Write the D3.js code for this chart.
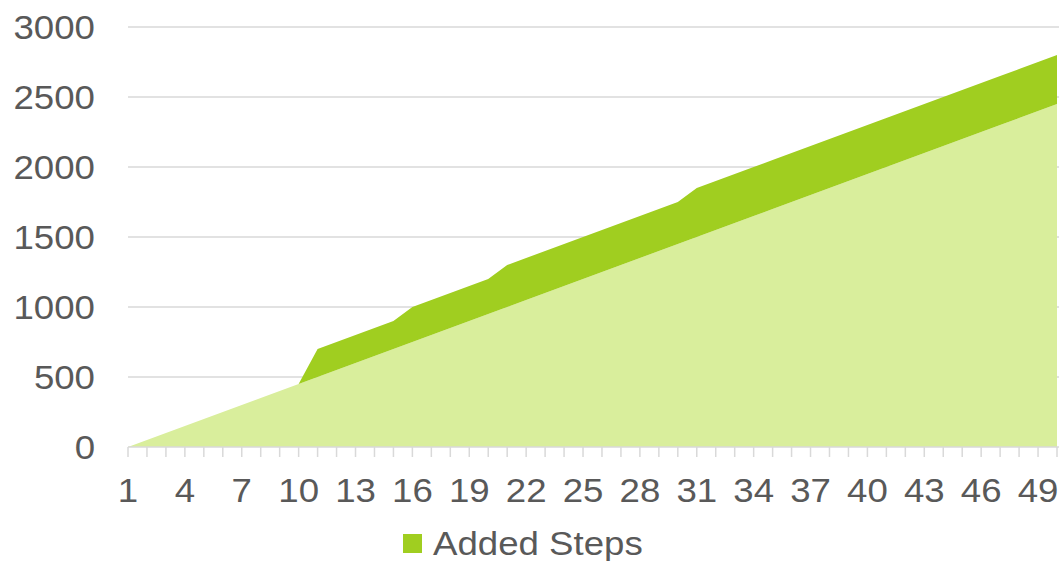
<!DOCTYPE html>
<html>
<head>
<meta charset="utf-8">
<script src="https://cdn.jsdelivr.net/npm/d3@7"></script>
<style>
  body { margin: 0; background: #fff; }
  svg { display: block; font-family: "Liberation Sans", Arial, sans-serif; }
  .lbl { fill: #595959; }
</style>
</head>
<body>
<div id="chart"></div>
<script>
// categorias del eje x (1..50)
const steps = [1, 2, 3, 4, 5, 6, 7, 8, 9, 10,
    11, 12, 13, 14, 15, 16, 17, 18, 19, 20,
    21, 22, 23, 24, 25, 26, 27, 28, 29, 30,
    31, 32, 33, 34, 35, 36, 37, 38, 39, 40,
    41, 42, 43, 44, 45, 46, 47, 48, 49, 50];

// serie base (area clara, sin leyenda)
const baseSteps = [0, 50, 100, 150, 200, 250, 300, 350, 400, 450,
    500, 550, 600, 650, 700, 750, 800, 850, 900, 950,
    1000, 1050, 1100, 1150, 1200, 1250, 1300, 1350, 1400, 1450,
    1500, 1550, 1600, 1650, 1700, 1750, 1800, 1850, 1900, 1950,
    2000, 2050, 2100, 2150, 2200, 2250, 2300, 2350, 2400, 2450];

// serie apilada encima
const addedSteps = [0, 0, 0, 0, 0, 0, 0, 0, 0, 0,
    200, 200, 200, 200, 200, 250, 250, 250, 250, 250,
    300, 300, 300, 300, 300, 300, 300, 300, 300, 300,
    350, 350, 350, 350, 350, 350, 350, 350, 350, 350,
    350, 350, 350, 350, 350, 350, 350, 350, 350, 350];

const yTicks = [0, 500, 1000, 1500, 2000, 2500, 3000];
const xLabels = [1, 4, 7, 10, 13, 16, 19, 22, 25, 28, 31, 34, 37, 40, 43, 46, 49];

const width = 1059, height = 561;
const stretch = 1.11; // el texto del original sale algo ensanchado

const svg = d3.select("#chart").append("svg")
    .attr("width", width)
    .attr("height", height);

const x = d3.scalePoint(steps, [128, 1057]);
const y = d3.scaleLinear([0, 3000], [447, 27]);

// tabla para el stack
const table = steps.map((s, i) => ({ step: s, base: baseSteps[i], added: addedSteps[i] }));
const series = d3.stack().keys(["base", "added"])(table);
const colors = { base: "#d9ee9c", added: "#a0ce20" };

// rejilla
svg.append("g")
    .selectAll("line")
    .data(yTicks.filter(d => d > 0))
    .join("line")
    .attr("x1", x(1))
    .attr("x2", width)
    .attr("y1", d => y(d))
    .attr("y2", d => y(d))
    .attr("stroke", "#d9d9d9")
    .attr("stroke-width", 1.5);

// areas apiladas
const area = d3.area()
    .x(d => x(d.data.step))
    .y0(d => y(d[0]))
    .y1(d => y(d[1]));

svg.append("g")
    .selectAll("path")
    .data(series)
    .join("path")
    .attr("fill", d => colors[d.key])
    .attr("d", area);

// eje x con una marca por categoria
const xAxis = svg.append("g").attr("transform", `translate(0,${y(0)})`);
xAxis.append("line")
    .attr("x1", x(1)).attr("x2", width)
    .attr("stroke", "#d9d9d9").attr("stroke-width", 1.5);
xAxis.selectAll("line.tick")
    .data(steps)
    .join("line")
    .classed("tick", true)
    .attr("x1", d => x(d)).attr("x2", d => x(d))
    .attr("y1", 0).attr("y2", 10)
    .attr("stroke", "#d9d9d9").attr("stroke-width", 1.5);
xAxis.selectAll("text")
    .data(xLabels)
    .join("text")
    .classed("lbl", true)
    .attr("transform", d => `translate(${x(d)},55) scale(${stretch},1)`)
    .attr("text-anchor", "middle")
    .attr("font-size", 33)
    .text(d => d);

// etiquetas del eje y
svg.append("g")
    .selectAll("text")
    .data(yTicks)
    .join("text")
    .classed("lbl", true)
    .attr("transform", d => `translate(95,${y(d)}) scale(${stretch},1)`)
    .attr("dy", "0.35em")
    .attr("text-anchor", "end")
    .attr("font-size", 33)
    .text(d => d);

// leyenda (solo la serie añadida)
const legend = svg.append("g").attr("transform", "translate(403,534)");
legend.append("rect")
    .attr("width", 19).attr("height", 19)
    .attr("fill", colors.added);
legend.append("text")
    .classed("lbl", true)
    .attr("transform", `translate(30,21) scale(${stretch},1)`)
    .attr("font-size", 33)
    .text("Added Steps");
</script>
</body>
</html>
